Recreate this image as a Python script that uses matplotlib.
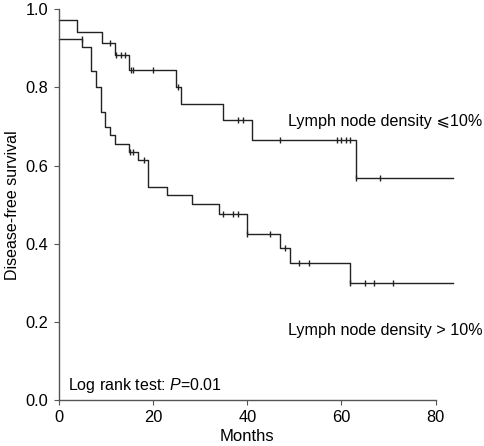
import matplotlib.pyplot as plt
import numpy as np

plt.rcParams['font.family'] = ['Liberation Sans', 'DejaVu Sans']
plt.rcParams['mathtext.fontset'] = 'custom'
plt.rcParams['mathtext.it'] = 'Liberation Sans:italic'
plt.rcParams['mathtext.rm'] = 'Liberation Sans'

# group 1: lymph node density <= 10%
low_times = [0, 3.9, 9.1, 11.8, 14.9, 24.8, 26.0, 34.9, 40.9, 63.1]
low_surv = [0.973, 0.943, 0.914, 0.883, 0.844, 0.800, 0.759, 0.716, 0.665, 0.569]
low_cens = [10.8, 12.2, 13.1, 14.0, 15.2, 15.8, 20.0, 25.2, 38.1, 39.0,
            46.9, 59.1, 60.0, 60.9, 61.8, 63.1, 68.2]

# group 2: lymph node density > 10%
high_times = [0, 4.95, 6.9, 7.8, 8.9, 9.8, 10.9, 11.9, 14.9, 16.8, 19.0,
              23.0, 28.2, 34.0, 40.0, 46.9, 49.0, 61.9]
high_surv = [0.925, 0.904, 0.843, 0.800, 0.737, 0.699, 0.678, 0.656, 0.635,
             0.615, 0.545, 0.524, 0.503, 0.477, 0.424, 0.390, 0.350, 0.299]
high_cens = [4.8, 15.0, 15.8, 18.0, 34.9, 36.9, 38.1, 40.0, 44.9, 48.0,
             51.0, 53.1, 61.9, 65.0, 67.0, 71.0]

end_time = 83.7

fig = plt.figure(figsize=(4.84, 4.46), dpi=100)
ax = fig.add_axes([0.1219, 0.1031, 0.8171, 0.8759])


def km(times, surv, cens):
    t = list(times) + [end_time]
    s = list(surv) + [surv[-1]]
    ax.step(t, s, where='post', color='#222222', lw=1.0, clip_on=False)
    idx = np.searchsorted(times, cens, side='right') - 1
    ax.plot(cens, np.array(surv)[idx], ls='none', marker='|', ms=5,
            mew=1.0, color='#222222', clip_on=False)


km(low_times, low_surv, low_cens)
km(high_times, high_surv, high_cens)

ax.set_xlim(0, 84)
ax.set_ylim(0, 1.0)
ax.set_xticks([0, 20, 40, 60, 80])
ax.set_yticks([0.0, 0.2, 0.4, 0.6, 0.8, 1.0])
ax.set_yticklabels(['0.0', '0.2', '0.4', '0.6', '0.8', '1.0'])
ax.spines['top'].set_visible(False)
ax.spines['right'].set_visible(False)
ax.spines['bottom'].set_bounds(0, 80)
for sp in ['left', 'bottom']:
    ax.spines[sp].set_color('#555555')
    ax.spines[sp].set_linewidth(1.0)
ax.tick_params(direction='out', length=3.5, pad=4, color='#555555',
               labelsize=11.8)

ax.set_xlabel('Months', fontsize=12, labelpad=3)
ax.xaxis.set_label_coords(40 / 84, -0.075)
ax.set_ylabel('Disease-free survival', fontsize=11.5, labelpad=4)

ax.text(48.6, 0.713, 'Lymph node density \u2a7d10%', fontsize=11.6,
        va='center', ha='left')
ax.text(48.6, 0.178, 'Lymph node density > 10%', fontsize=11.6,
        va='center', ha='left')
ax.text(1.9, 0.037, 'Log rank test: $P$=0.01', fontsize=11.5,
        va='center', ha='left')

fig.savefig('out.png', dpi=100)
